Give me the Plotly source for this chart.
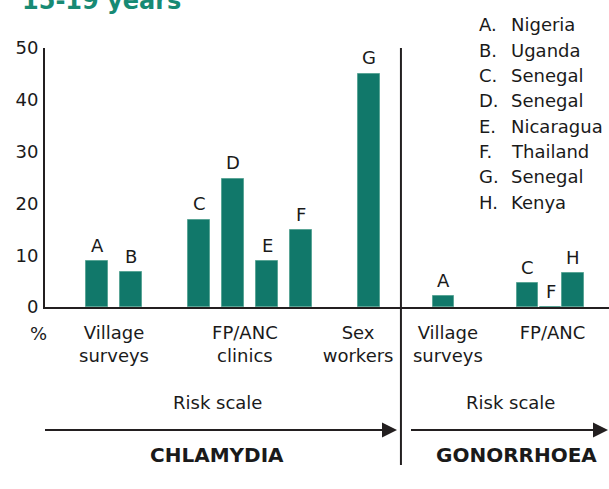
import plotly.graph_objects as go

# ---- data ----
chl_letters = ["A", "B", "C", "D", "E", "F", "G"]
chl_values = [8.8, 6.7, 16.8, 24.8, 8.8, 14.8, 45.0]
chl_slots = [0, 1, 3, 4, 5, 6, 8]

gon_letters = ["A", "C", "F", "H"]
gon_values = [2.1, 4.6, 0.0, 6.5]
gon_slots = [10.2, 12.67, 13.35, 14.0]

group_labels = ["Village<br>surveys", "FP/ANC<br>clinics", "Sex<br>workers",
                "Village<br>surveys", "FP/ANC"]
group_slots = [0.5, 4.35, 7.68, 10.32, 13.4]

y_ticks = [0, 10, 20, 30, 40, 50]

legend_letters = ["A.", "B.", "C.", "D.", "E.", "F.", "G.", "H."]
legend_countries = ["Nigeria", "Uganda", "Senegal", "Senegal", "Nicaragua",
                    "Thailand", "Senegal", "Kenya"]

title_text = "15-19 years"
axis_unit = "%"
risk_label = "Risk scale"
disease_labels = ["CHLAMYDIA", "GONORRHOEA"]

# ---- style ----
W, H = 609, 489
ML, MR, MT, MB = 45, 0, 48, 182
PW, PH = W - ML - MR, H - MT - MB
FONT = "DejaVu Sans"
INK = "#1a1a1a"
LINE = "#231f20"
TEAL = "#11786a"
TITLE_TEAL = "#178a74"


def px(xp):
    return (xp - ML) / PW


def py(yp):
    return (H - MB - yp) / PH


fig = go.Figure()
ann = []
for letters, vals, slots in [(chl_letters, chl_values, chl_slots),
                             (gon_letters, gon_values, gon_slots)]:
    fig.add_trace(go.Bar(
        x=slots, y=vals, width=0.62,
        marker=dict(color=TEAL, line=dict(color="#5aa596", width=1)),
        hoverinfo="skip", showlegend=False, cliponaxis=False,
    ))
    for s, v, t in zip(slots, vals, letters):
        ann.append(dict(text=t, x=s, y=v, xref="x", yref="y",
                        xanchor="center", yanchor="middle", yshift=16,
                        showarrow=False,
                        font=dict(family=FONT, size=18, color=INK)))

fig.update_layout(
    width=W, height=H,
    margin=dict(l=ML, r=MR, t=MT, b=MB),
    paper_bgcolor="white", plot_bgcolor="white",
    font=dict(family=FONT, size=18, color=INK),
    bargap=0,
    xaxis=dict(range=[-1.53, 15.06], showgrid=False, zeroline=False,
               showline=True, linecolor=LINE, linewidth=2,
               tickvals=group_slots, ticktext=group_labels,
               ticks="outside", ticklen=8, tickcolor="rgba(0,0,0,0)",
               tickfont=dict(family=FONT, size=18, color=INK)),
    yaxis=dict(range=[0, 50], showgrid=False, zeroline=False,
               showline=True, linecolor=LINE, linewidth=2,
               tickvals=y_ticks, ticks="outside", ticklen=1,
               tickcolor="rgba(0,0,0,0)",
               tickfont=dict(family=FONT, size=18, color=INK)),
)

shapes = []
# divider between the two diseases
shapes.append(dict(type="line", xref="x", yref="paper", x0=8.94, x1=8.94,
                   y0=1.0, y1=py(465), line=dict(color=LINE, width=2)))
# arrows
for x_start, x_tip in [(45, 397), (411, 608)]:
    shapes.append(dict(type="line", xref="paper", yref="paper",
                       x0=px(x_start), x1=px(x_tip - 14), y0=py(430), y1=py(430),
                       line=dict(color=LINE, width=2)))
    shapes.append(dict(type="path", xref="paper", yref="paper",
                       path=f"M {px(x_tip-15)} {py(422.5)} L {px(x_tip)} {py(430)} "
                            f"L {px(x_tip-15)} {py(437.5)} Z",
                       fillcolor=LINE, line=dict(color=LINE, width=0)))
fig.update_layout(shapes=shapes)

ann.append(dict(text=f"<b>{title_text}</b>", xref="paper", yref="paper",
                x=px(20), y=py(1), xanchor="left", yanchor="middle",
                showarrow=False, font=dict(family=FONT, size=24, color=TITLE_TEAL)))
ann.append(dict(text=axis_unit, xref="paper", yref="paper", x=px(38), y=py(333),
                xanchor="center", yanchor="middle", showarrow=False))
for i, (lt, ct) in enumerate(zip(legend_letters, legend_countries)):
    yy = py(25 + i * 25.3)
    ann.append(dict(text=lt, xref="paper", yref="paper", x=px(477), y=yy,
                    xanchor="left", yanchor="middle", showarrow=False))
    ann.append(dict(text=ct, xref="paper", yref="paper", x=px(509), y=yy,
                    xanchor="left", yanchor="middle", showarrow=False))
for xc in [217, 510]:
    ann.append(dict(text=risk_label, xref="paper", yref="paper", x=px(xc), y=py(402),
                    xanchor="center", yanchor="middle", showarrow=False))
for xc, lab in zip([217, 516], disease_labels):
    ann.append(dict(text=f"<b>{lab}</b>", xref="paper", yref="paper", x=px(xc),
                    y=py(455), xanchor="center", yanchor="middle", showarrow=False,
                    font=dict(family=FONT, size=20, color=INK)))
fig.update_layout(annotations=ann)

fig.write_html("out.html",
               config={"displayModeBar": False},
               post_script="document.body.style.margin='0px';"
                           "document.body.style.overflow='hidden';")
